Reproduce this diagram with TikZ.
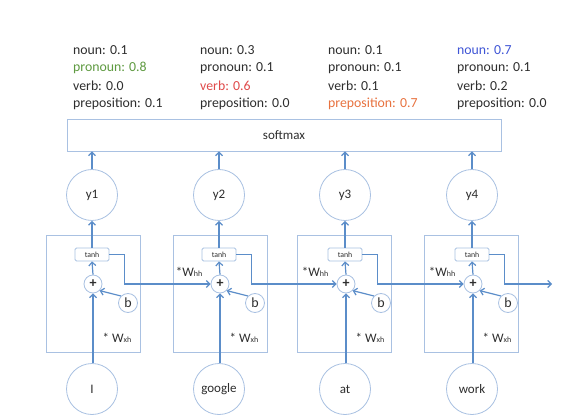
\documentclass[tikz,border=0pt]{standalone}
\usepackage{fontspec}
\setmainfont{Carlito}
\usetikzlibrary{arrows.meta}
\definecolor{boxc}{HTML}{A9C1E2}
\definecolor{arrc}{HTML}{5B8DC9}
\definecolor{txt}{HTML}{2E2E2E}
\definecolor{cgreen}{HTML}{5E9A40}
\definecolor{cred}{HTML}{E04A4A}
\definecolor{corange}{HTML}{E8723F}
\definecolor{cblue}{HTML}{3F55D6}
\begin{document}
\begin{tikzpicture}[x=1pt,y=-1pt,
  lbl/.style={anchor=west,inner sep=0pt,text=txt,font=\fontsize{13.8}{15}\selectfont},
  circ/.style={circle,draw=boxc,line width=0.8pt,minimum size=51pt,inner sep=0pt,text=txt,font=\fontsize{13}{15}\selectfont},
  cellbox/.style={draw=boxc,line width=0.8pt,minimum width=94pt,minimum height=117pt,inner sep=0pt},
  tanhbox/.style={draw=boxc,line width=0.8pt,rounded corners=1.5pt,fill=white,minimum width=34pt,minimum height=13pt,inner sep=0pt,text=txt,font=\fontsize{7.8}{8}\selectfont},
  plusc/.style={circle,draw=boxc,line width=0.8pt,fill=white,minimum size=18pt,inner sep=0pt,text=txt,font=\fontsize{14}{15}\selectfont\bfseries},
  bc/.style={circle,draw=boxc,line width=0.8pt,fill=white,minimum size=19pt,inner sep=0pt,text=txt,font=\fontsize{14}{15}\selectfont},
  arr/.style={draw=arrc,line width=1.2pt,-{Straight Barb[length=3.5pt,width=7pt]}},
  wl/.style={inner sep=0pt,text=txt,font=\fontsize{13}{15}\selectfont}
]
\useasboundingbox (0,0) rectangle (564,419);
\fill[white] (0,0) rectangle (564,419);

% probability texts
\node[lbl] (a1) at (73,50) {noun: 0.1};
\node[lbl,text=cgreen] (a2) at (73,68) {pronoun: 0.8};
\node[lbl] (a3) at (73,86) {verb: 0.0};
\node[lbl] (a4) at (73,104) {preposition: 0.1};
\node[lbl] (b1) at (200,50) {noun: 0.3};
\node[lbl] (b2) at (200,68) {pronoun: 0.1};
\node[lbl,text=cred] (b3) at (200,86) {verb: 0.6};
\node[lbl] (b4) at (200,104) {preposition: 0.0};
\node[lbl] (c1) at (328,50) {noun: 0.1};
\node[lbl] (c2) at (328,68) {pronoun: 0.1};
\node[lbl] (c3) at (328,86) {verb: 0.1};
\node[lbl,text=corange] (c4) at (328,104) {preposition: 0.7};
\node[lbl,text=cblue] (d1) at (457,50) {noun: 0.7};
\node[lbl] (d2) at (457,68) {pronoun: 0.1};
\node[lbl] (d3) at (457,86) {verb: 0.2};
\node[lbl] (d4) at (457,104) {preposition: 0.0};

% softmax
\node[draw=boxc,line width=0.8pt,minimum width=434pt,minimum height=32pt,inner sep=0pt,text=txt,font=\fontsize{13}{15}\selectfont] (sm) at (284,135) {softmax};

\foreach \i/\x/\cx/\w in {1/92/93/I,2/219/220/google,3/345/344.5/at,4/472/471/work}{
  \node[cellbox] (cell\i) at (\cx,293.5) {};
  \node[circ] (y\i) at (\x,195) {y\i};
  \node[tanhbox] (t\i) at (\x,254.5) {tanh};
  \node[plusc] (p\i) at (\x+1,284) {+};
  \node[bc] (b\i) at (\x+36,303) {b};
  \node[circ] (in\i) at (\x,389) {\w};
  \node[wl] (wx\i) at (\x+25,338) {* W{\fontsize{8}{9}\selectfont xh}};
  \draw[arr] (y\i.north) -- (y\i.north |- sm.south);
  \draw[arr] (t\i.north) -- (y\i.south);
  \draw[arr] (p\i.north) -- (t\i.south);
  \draw[arr] (b\i.north west) -- (p\i.south east);
  \draw[arr] (in\i.north -| p\i.south) -- (p\i.south);
}
\foreach \i/\x in {2/219,3/345,4/472}{
  \node[wl] (wh\i) at (\x-30,272) {*W{\fontsize{8}{9}\selectfont hh}};
}
\coordinate (endp) at (552,284);
\draw[arr] (t1.east) -- ++(15,0) |- (p2.west);
\draw[arr] (t2.east) -- ++(15,0) |- (p3.west);
\draw[arr] (t3.east) -- ++(15,0) |- (p4.west);
\draw[arr] (t4.east) -- ++(15,0) |- (endp);
\end{tikzpicture}
\end{document}
